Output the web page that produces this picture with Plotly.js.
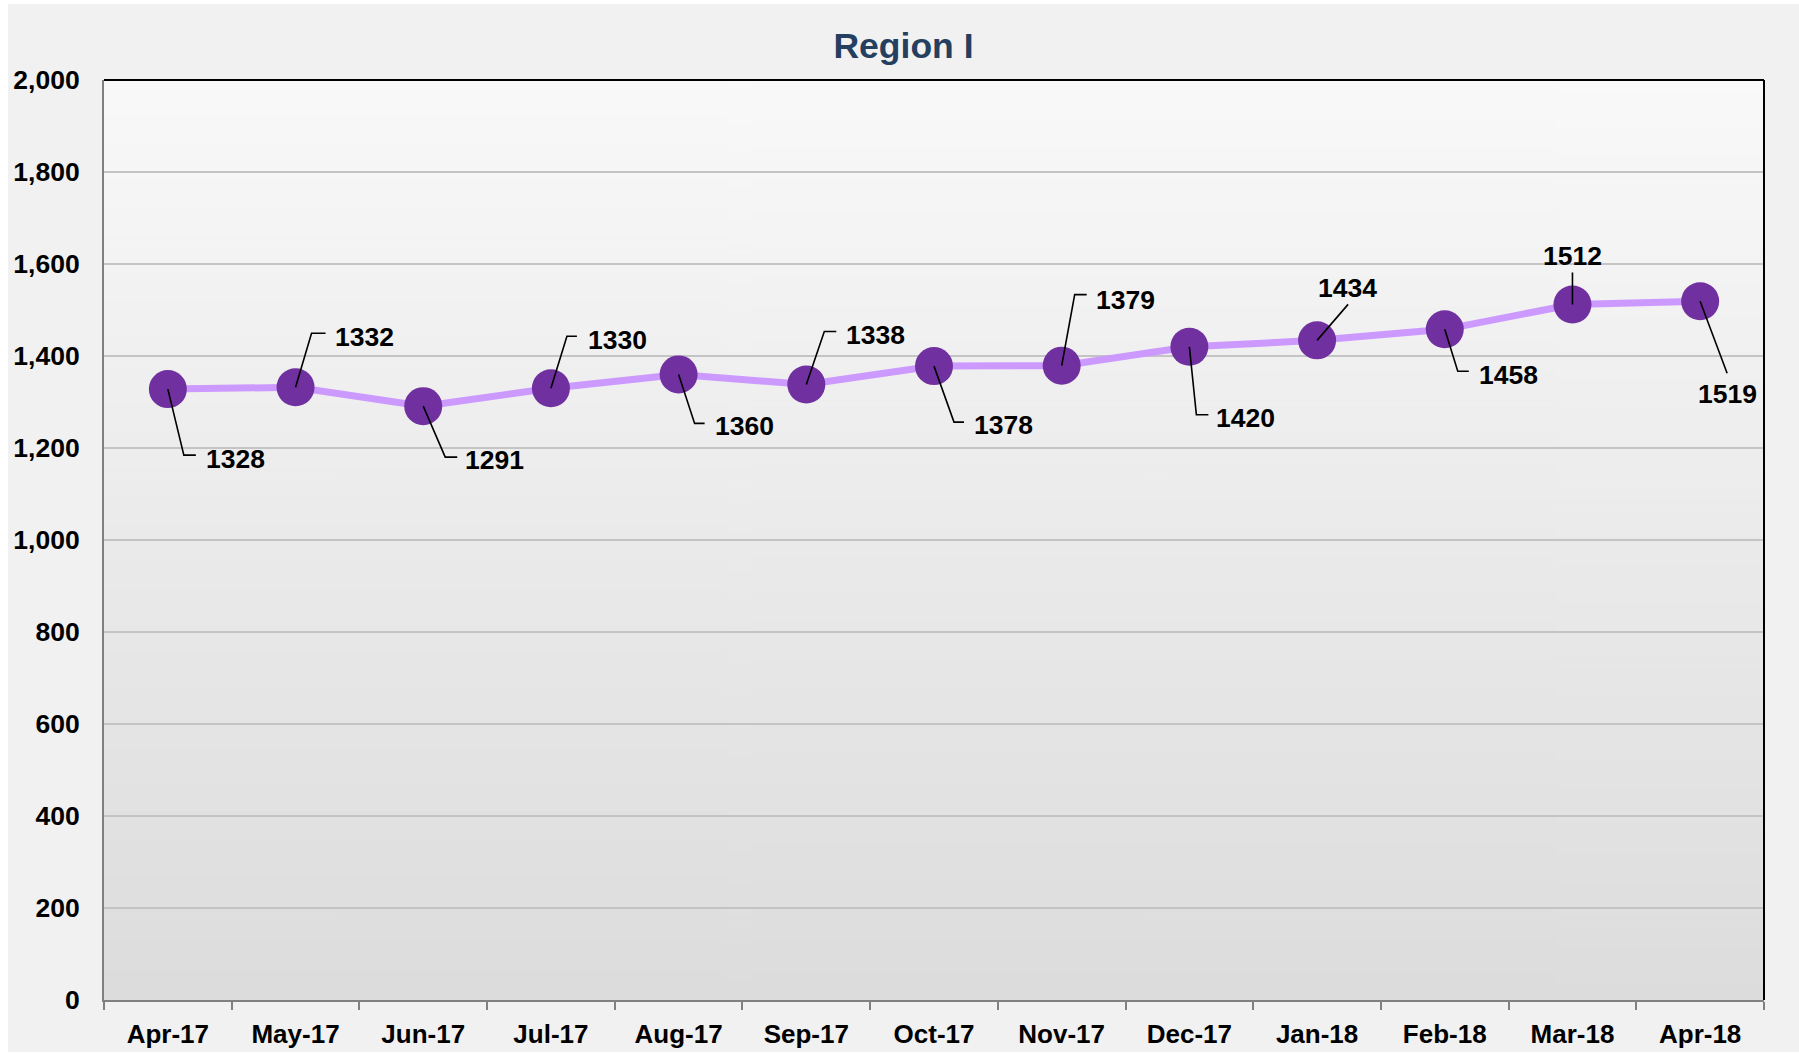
<!DOCTYPE html>
<html>
<head>
<meta charset="utf-8">
<script src="https://cdn.plot.ly/plotly-3.0.1.min.js"></script>
<style>
html,body{margin:0;padding:0;background:#ffffff;}
#chart{position:absolute;left:8px;top:4px;width:1791px;height:1048px;}
</style>
</head>
<body>
<div id="chart"></div>
<script>
// ---- data ----
const chartTitle = 'Region I';
const months = ['Apr-17','May-17','Jun-17','Jul-17','Aug-17','Sep-17','Oct-17','Nov-17','Dec-17','Jan-18','Feb-18','Mar-18','Apr-18'];
const counts = [1328, 1332, 1291, 1330, 1360, 1338, 1378, 1379, 1420, 1434, 1458, 1512, 1519];
const yTicks = [0, 200, 400, 600, 800, 1000, 1200, 1400, 1600, 1800, 2000];

// ---- label placement (pixel offsets from each point; dx right, dy down) ----
const leaderDx = [16, 16, 22, 16, 16, 18, 20, 13, 7, 31, 13, 0, 27];
const leaderDy = [66, -54, 51, -52, 49, -53, 56, -71, 68, -36, 42, -32, 72];
const elbowEnd = [28, 30, 34, 26, 26, 30, 30, 25, 19, null, 24, null, null];
const labelDx  = [36, 37, 40, 35, 34, 38, 38, 32, 25, 30, 32, 0, 27];
const labelDy  = [70, -50, 54, -48, 52, -50, 59, -66, 71, -52, 46, -48, 93];
const labelAnchor = ['left','left','left','left','left','left','left','left','left','center','left','center','center'];

const FONT = 'Liberation Sans, Arial, Helvetica, sans-serif';

// gradient image for plot background
function gradientURL() {
  const c = document.createElement('canvas');
  c.width = 4; c.height = 512;
  const g = c.getContext('2d');
  const gr = g.createLinearGradient(0, 0, 0, 512);
  gr.addColorStop(0, '#f9f9f9');
  gr.addColorStop(1, '#dcdcdc');
  g.fillStyle = gr;
  g.fillRect(0, 0, 4, 512);
  return c.toDataURL('image/png');
}

const trace = {
  type: 'scatter',
  mode: 'lines+markers',
  x: months,
  y: counts,
  line: {color: '#cc99ff', width: 7},
  marker: {color: '#7030a0', size: 38, line: {width: 0}},
  hoverinfo: 'skip',
  cliponaxis: false
};

const shapes = [];
const annotations = [];
months.forEach(function (m, i) {
  let path = 'M0,0 L' + leaderDx[i] + ',' + (-leaderDy[i]);
  if (elbowEnd[i] !== null) path += ' L' + elbowEnd[i] + ',' + (-leaderDy[i]);
  shapes.push({
    type: 'path', xref: 'x', yref: 'y',
    xsizemode: 'pixel', ysizemode: 'pixel',
    xanchor: m, yanchor: counts[i],
    path: path,
    line: {color: '#000000', width: 1.6},
    layer: 'above'
  });
  annotations.push({
    x: m, y: counts[i], xref: 'x', yref: 'y',
    text: String(counts[i]),
    showarrow: false,
    xanchor: labelAnchor[i], yanchor: 'middle',
    xshift: labelDx[i], yshift: -labelDy[i],
    font: {family: FONT, size: 26.5, color: '#000000', weight: 'bold'}
  });
});

// top and right frame lines
shapes.push({type: 'line', xref: 'paper', yref: 'paper', x0: 0, x1: 1, y0: 1, y1: 1, line: {color: '#000000', width: 2}, layer: 'above'});
shapes.push({type: 'line', xref: 'paper', yref: 'paper', x0: 1, x1: 1, y0: 0, y1: 1, line: {color: '#000000', width: 2}, layer: 'above'});

const layout = {
  width: 1791, height: 1048,
  paper_bgcolor: '#f1f1f1',
  plot_bgcolor: 'rgba(0,0,0,0)',
  margin: {l: 96, r: 35, t: 76, b: 52, pad: 0},
  showlegend: false,
  title: {
    text: chartTitle,
    xref: 'container', x: 0.5, xanchor: 'center',
    yref: 'container', y: 1 - 42 / 1048, yanchor: 'middle',
    font: {family: FONT, size: 35.5, color: '#243f60', weight: 'bold'}
  },
  xaxis: {
    type: 'category',
    categoryorder: 'array', categoryarray: months,
    range: [-0.5, months.length - 0.5],
    tickson: 'boundaries',
    ticks: 'outside', ticklen: 8, tickwidth: 2, tickcolor: '#808080',
    showline: true, linecolor: '#808080', linewidth: 2,
    showgrid: false, zeroline: false,
    automargin: false,
    ticklabelstandoff: 10,
    tickfont: {family: FONT, size: 26, color: '#000000', weight: 'bold'}
  },
  yaxis: {
    range: [0, 2000],
    tickvals: yTicks,
    tickformat: ',d',
    ticks: '',
    showline: true, linecolor: '#808080', linewidth: 2,
    showgrid: true, gridcolor: '#c4c4c4', gridwidth: 2,
    zeroline: false,
    automargin: false,
    ticklabelstandoff: 17,
    tickfont: {family: FONT, size: 26.5, color: '#000000', weight: 'bold'}
  },
  images: [{
    source: gradientURL(),
    xref: 'paper', yref: 'paper',
    x: 0, y: 1, sizex: 1, sizey: 1,
    xanchor: 'left', yanchor: 'top',
    sizing: 'stretch', layer: 'below'
  }],
  shapes: shapes,
  annotations: annotations
};

Plotly.newPlot('chart', [trace], layout, {staticPlot: true, displayModeBar: false});
</script>
</body>
</html>
